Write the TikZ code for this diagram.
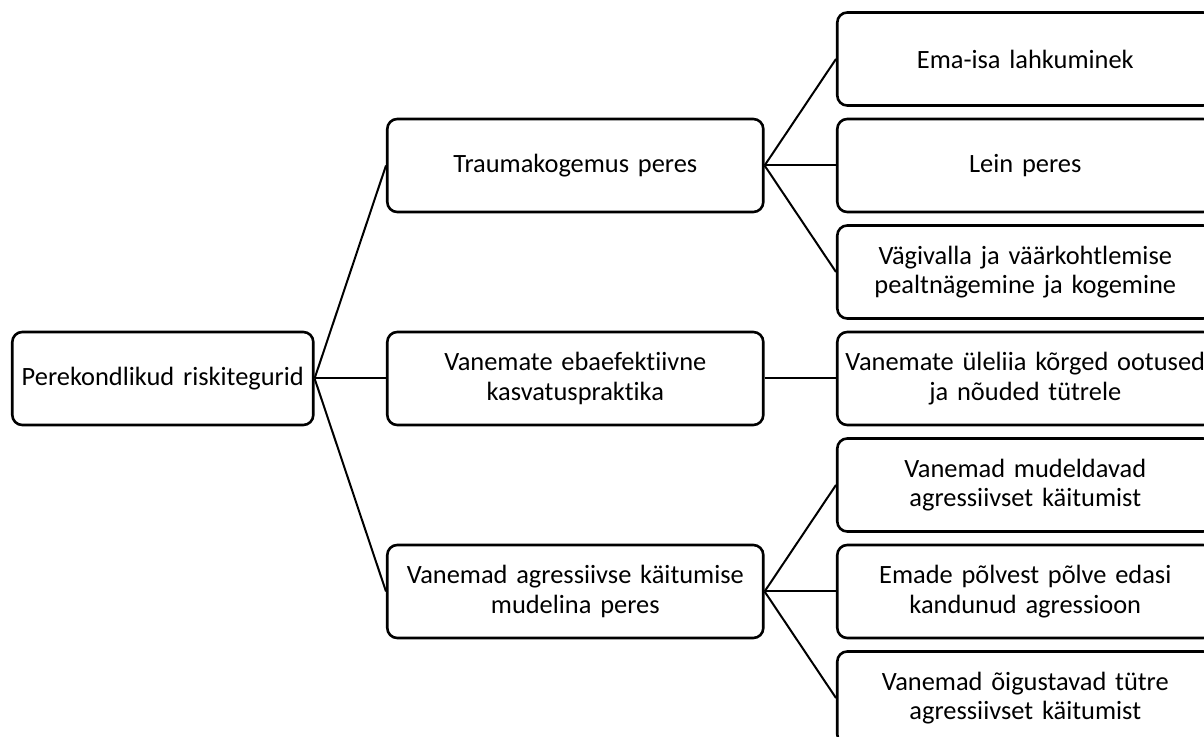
\documentclass[tikz,border=0pt]{standalone}
\usepackage{fontspec}
\setmainfont{Carlito}[Ligatures=NoCommon]
\usetikzlibrary{matrix}

\begin{document}
\begin{tikzpicture}[font=\fontsize{13.2}{14.8}\selectfont]
  \matrix (m) [matrix of nodes,row sep=5.45pt,column sep=35.7pt,
    nodes={draw,line width=1.3pt,rounded corners=5pt,align=center,anchor=center,minimum height=46.5pt,inner sep=2pt},
    column 1/.style={nodes={text width=146.5pt}},
    column 2/.style={nodes={text width=184pt}},
    column 3/.style={nodes={text width=184pt}}] {
                               &                                            & Ema-isa lahkuminek \\
                               & Traumakogemus peres                        & Lein peres \\
                               &                                            & {Vägivalla ja väärkohtlemise\\ pealtnägemine ja kogemine} \\
    Perekondlikud riskitegurid & {Vanemate ebaefektiivne\\ kasvatuspraktika} & {Vanemate üleliia kõrged ootused\\ ja nõuded tütrele} \\
                               &                                            & {Vanemad mudeldavad\\ agressiivset käitumist} \\
                               & {Vanemad agressiivse käitumise\\ mudelina peres} & {Emade põlvest põlve edasi\\ kandunud agressioon} \\
                               &                                            & {Vanemad õigustavad tütre\\ agressiivset käitumist} \\
  };
  \path[line width=1pt]
    (m-4-1.east) edge (m-2-2.west)
    (m-4-1.east) edge (m-4-2.west)
    (m-4-1.east) edge (m-6-2.west)
    (m-2-2.east) edge (m-1-3.west)
    (m-2-2.east) edge (m-2-3.west)
    (m-2-2.east) edge (m-3-3.west)
    (m-4-2.east) edge (m-4-3.west)
    (m-6-2.east) edge (m-5-3.west)
    (m-6-2.east) edge (m-6-3.west)
    (m-6-2.east) edge (m-7-3.west);
  \pgfresetboundingbox
  \useasboundingbox ([shift={(-5.5pt,189.25pt)}]m-4-1.west) rectangle +(602pt,-368.5pt);
\end{tikzpicture}
\end{document}
